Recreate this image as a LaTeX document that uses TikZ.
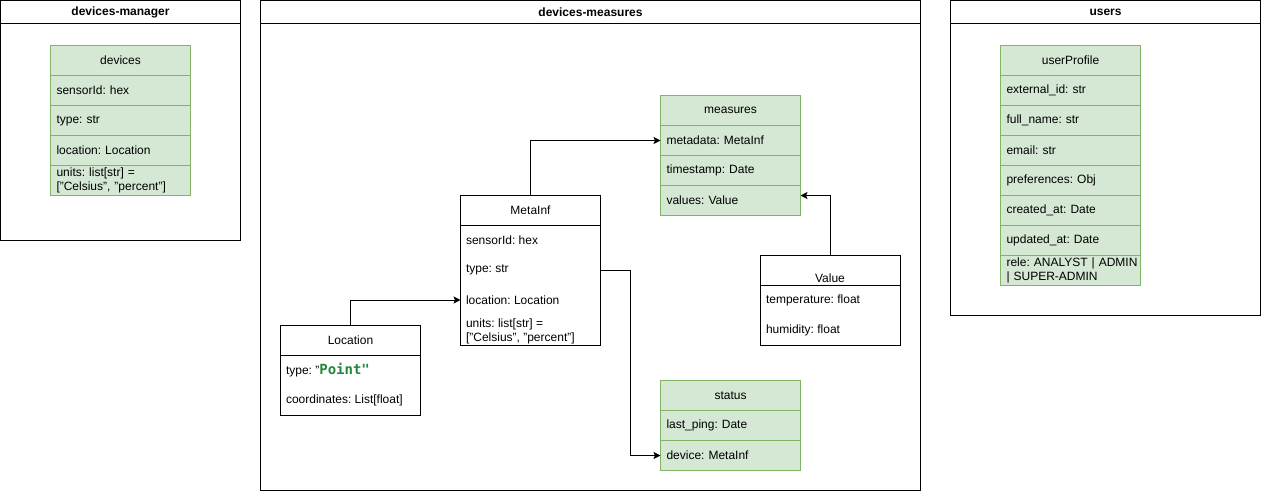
\documentclass[tikz,border=0pt]{standalone}
\usepackage{fontspec}
\setmainfont{Liberation Sans}
\newfontfamily\pointfont{DejaVu Sans Mono}
\usetikzlibrary{arrows.meta}
\definecolor{gfill}{HTML}{D5E8D4}
\definecolor{gline}{HTML}{82B366}
\definecolor{pointgreen}{HTML}{22863A}
\frenchspacing
\tikzset{
  base/.style={font=\fontsize{12pt}{14pt}\selectfont\frenchspacing, inner sep=0pt, outer sep=0pt, line width=1pt},
  conthead/.style={base, draw=black, fill=white, minimum height=23, font=\fontsize{12pt}{14pt}\selectfont\bfseries},
  contbody/.style={base, draw=black, fill=white},
  ghead/.style={base, draw=gline, fill=gfill, minimum width=140, minimum height=30, align=center},
  grnrow/.style={base, draw=gline, fill=gfill, minimum width=140, minimum height=30, text width=128pt, inner xsep=6pt, align=left},
  whead/.style={base, draw=black, fill=white, minimum width=140, minimum height=30, align=center},
  wbody/.style={base, draw=black, fill=white, minimum width=140},
  field/.style={base, anchor=west, align=left},
  arr/.style={line width=1pt, -{Stealth[length=7pt,width=7pt,inset=1.5pt]}},
}
\begin{document}
\begin{tikzpicture}[x=1pt,y=-1pt]
\useasboundingbox (0,0) rectangle (1261,491);
% ---------- containers
\node[conthead, minimum width=240, anchor=north west] (dmh) at (0.5,0.5) {devices-manager};
\node[contbody, minimum width=240, minimum height=217, anchor=north] (dm) at (dmh.south) {};
\node[conthead, minimum width=660, anchor=north west] (mmh) at (260.5,0.5) {devices-measures};
\node[contbody, minimum width=660, minimum height=467, anchor=north] (mm) at (mmh.south) {};
\node[conthead, minimum width=310, anchor=north west] (ush) at (950.5,0.5) {users};
\node[contbody, minimum width=310, minimum height=292, anchor=north] (us) at (ush.south) {};
% ---------- devices
\node[ghead, anchor=north west] (d0) at (50.5,45.5) {devices};
\node[grnrow, anchor=north] (d1) at (d0.south) {sensorId: hex};
\node[grnrow, anchor=north] (d2) at (d1.south) {type: str};
\node[grnrow, anchor=north] (d3) at (d2.south) {location: Location};
\node[grnrow, anchor=north] (d4) at (d3.south) {\hbox{units: list[str] =}\\\hbox{["Celsius", "percent"]}};
% ---------- measures
\node[ghead, anchor=north west] (m0) at (660.5,95.5) {measures};
\node[grnrow, anchor=north] (m1) at (m0.south) {metadata: MetaInf};
\node[grnrow, anchor=north] (m2) at (m1.south) {timestamp: Date};
\node[grnrow, anchor=north] (m3) at (m2.south) {values: Value};
% ---------- status
\node[ghead, anchor=north west] (s0) at (660.5,380.5) {status};
\node[grnrow, anchor=north] (s1) at (s0.south) {last\_ping: Date};
\node[grnrow, anchor=north] (s2) at (s1.south) {device: MetaInf};
% ---------- userProfile
\node[ghead, anchor=north west] (u0) at (1000.5,45.5) {userProfile};
\node[grnrow, anchor=north] (u1) at (u0.south) {external\_id: str};
\node[grnrow, anchor=north] (u2) at (u1.south) {full\_name: str};
\node[grnrow, anchor=north] (u3) at (u2.south) {email: str};
\node[grnrow, anchor=north] (u4) at (u3.south) {preferences: Obj};
\node[grnrow, anchor=north] (u5) at (u4.south) {created\_at: Date};
\node[grnrow, anchor=north] (u6) at (u5.south) {updated\_at: Date};
\node[grnrow, anchor=north] (u7) at (u6.south) {\hbox{rele: ANALYST | ADMIN}\\\hbox{| SUPER-ADMIN}};
% ---------- MetaInf
\node[whead, anchor=north west] (mi) at (460.5,195.5) {MetaInf};
\node[wbody, minimum height=120, anchor=north] (mib) at (mi.south) {};
\node[field] (mi1) at (466,240) {sensorId: hex};
\node[field] (mi2) at (466,270) {type: str};
\node[field] (mi3) at (466,300) {location: Location};
\node[field] (mi4) at (466,331) {units: list[str] =\\\relax ["Celsius", "percent"]};
% ---------- Location
\node[whead, anchor=north west] (lo) at (280.5,325.5) {Location};
\node[wbody, minimum height=60, anchor=north] (lob) at (lo.south) {};
\node[field] (lo1) at (286,370.5) {type: "{\pointfont\bfseries\fontsize{14pt}{14pt}\selectfont\color{pointgreen}Point"}};
\node[field] (lo2) at (286,400) {coordinates: List[float]};
% ---------- Value
\node[wbody, minimum height=30, anchor=north west] (va) at (760.5,255.5) {};
\node[base, anchor=center] (vat) at (830,278) {Value};
\node[wbody, minimum height=60, anchor=north] (vab) at (va.south) {};
\node[field] (va1) at (766,300) {temperature: float};
\node[field] (va2) at (766,330) {humidity: float};
% ---------- connectors
\draw[arr] (mi.north) |- (m1.west);
\draw[arr] (va.north) |- ([yshift=5pt]m3.east);
\draw[arr] (mi2 -| mib.east) -- ++(30,0) |- (s2.west);
\draw[arr] (lo.north) |- (mi3 -| mib.west);
\end{tikzpicture}
\end{document}
